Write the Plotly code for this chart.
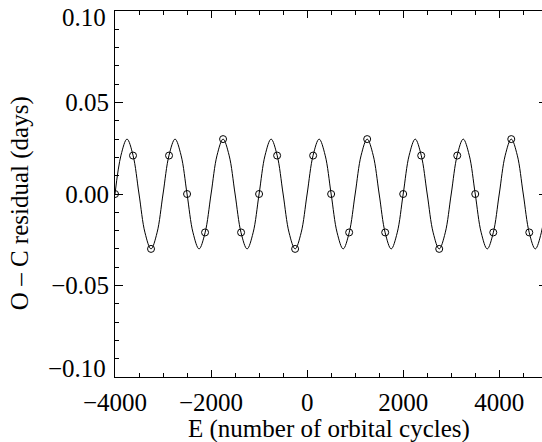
import plotly.graph_objects as go

# Observed O-C residuals (cycle number, days)
obs_E = [-4000, -3625, -3250, -2875, -2500, -2125, -1750, -1375,
         -1000, -625, -250, 125, 500, 875, 1250, 1625,
         2000, 2375, 2750, 3125, 3500, 3875, 4250, 4625]
obs_res = [0.0, 0.021, -0.030, 0.021, 0.0, -0.021, 0.030, -0.021,
           0.0, 0.021, -0.030, 0.021, 0.0, -0.021, 0.030, -0.021,
           0.0, 0.021, -0.030, 0.021, 0.0, -0.021, 0.030, -0.021]

# Fitted curve read at key points (smoothed with a spline)
fit_E = [-4000, -3875, -3750, -3625, -3500, -3375, -3250, -3125,
         -3000, -2875, -2750, -2625, -2500, -2375, -2250, -2125,
         -2000, -1875, -1750, -1625, -1500, -1375, -1250, -1125,
         -1000, -875, -750, -625, -500, -375, -250, -125,
         0, 125, 250, 375, 500, 625, 750, 875,
         1000, 1125, 1250, 1375, 1500, 1625, 1750, 1875,
         2000, 2125, 2250, 2375, 2500, 2625, 2750, 2875,
         3000, 3125, 3250, 3375, 3500, 3625, 3750, 3875,
         4000, 4125, 4250, 4375, 4500, 4625, 4750, 4875, 5000]
fit_res = [0.0, 0.0212, 0.030, 0.0212, 0.0, -0.0212, -0.030, -0.0212,
           0.0, 0.0212, 0.030, 0.0212, 0.0, -0.0212, -0.030, -0.0212,
           0.0, 0.0212, 0.030, 0.0212, 0.0, -0.0212, -0.030, -0.0212,
           0.0, 0.0212, 0.030, 0.0212, 0.0, -0.0212, -0.030, -0.0212,
           0.0, 0.0212, 0.030, 0.0212, 0.0, -0.0212, -0.030, -0.0212,
           0.0, 0.0212, 0.030, 0.0212, 0.0, -0.0212, -0.030, -0.0212,
           0.0, 0.0212, 0.030, 0.0212, 0.0, -0.0212, -0.030, -0.0212,
           0.0, 0.0212, 0.030, 0.0212, 0.0, -0.0212, -0.030, -0.0212,
           0.0, 0.0212, 0.030, 0.0212, 0.0, -0.0212, -0.030, -0.0212, 0.0]

x_ticks = [-4000, -2000, 0, 2000, 4000]
x_tick_text = ["\u22124000", "\u22122000", "0", "2000", "4000"]
y_ticks = [-0.10, -0.05, 0.00, 0.05, 0.10]
# extreme labels are placed separately (kept inside the frame)
y_tick_text = ["", "\u22120.05", "0.00", "0.05", ""]
y_edge_labels = ["\u22120.10", "0.10"]
y_edge_values = [-0.10, 0.10]

X_RANGE = [-4000, 4890]
Y_RANGE = [-0.1, 0.1]
FONT = "Liberation Serif"

fig = go.Figure()
fig.add_trace(go.Scatter(x=fit_E, y=fit_res, mode="lines",
                         line=dict(color="black", width=1, shape="spline", smoothing=1.0),
                         showlegend=False, hoverinfo="skip"))
fig.add_trace(go.Scatter(x=obs_E, y=obs_res, mode="markers",
                         marker=dict(symbol="circle-open", size=7, color="black",
                                     line=dict(color="black", width=1)),
                         showlegend=False))
# invisible trace to activate the top/right frame axes
fig.add_trace(go.Scatter(x=[obs_E[0]], y=[obs_res[0]], xaxis="x2", yaxis="y2", mode="markers",
                         marker=dict(opacity=0), showlegend=False, hoverinfo="skip"))

fig.update_layout(
    width=542, height=442,
    margin=dict(l=115, r=0, t=11, b=65),
    paper_bgcolor="white", plot_bgcolor="white",
    font=dict(family=FONT, size=25, color="black"),
    xaxis=dict(range=X_RANGE, tickmode="array", tickvals=x_ticks, ticktext=x_tick_text,
               ticks="inside", ticklen=7, tickwidth=1, tickcolor="black",
               showline=True, linecolor="black", linewidth=1, mirror=False,
               showgrid=False, zeroline=False, ticklabelstandoff=3,
               minor=dict(dtick=500, tick0=0, ticks="inside", ticklen=4, tickcolor="black", showgrid=False),
               tickfont=dict(family=FONT, size=25)),
    xaxis2=dict(range=X_RANGE, overlaying="x", side="top", anchor="y",
                tickmode="array", tickvals=x_ticks, showticklabels=False,
                ticks="inside", ticklen=7, tickwidth=1, tickcolor="black",
                showline=True, linecolor="black", linewidth=1,
                showgrid=False, zeroline=False,
                minor=dict(dtick=500, tick0=0, ticks="inside", ticklen=4, tickcolor="black", showgrid=False)),
    yaxis=dict(range=Y_RANGE, tickmode="array", tickvals=y_ticks, ticktext=y_tick_text,
               ticks="inside", ticklen=8, tickwidth=1, tickcolor="black",
               showline=True, linecolor="black", linewidth=1, mirror=False,
               showgrid=False, zeroline=False,
               minor=dict(dtick=0.01, tick0=0, ticks="inside", ticklen=4, tickcolor="black", showgrid=False),
               tickfont=dict(family=FONT, size=25)),
    yaxis2=dict(range=Y_RANGE, overlaying="y", side="right", anchor="x",
                tickmode="array", tickvals=y_ticks, showticklabels=False,
                ticks="inside", ticklen=3, tickwidth=1, tickcolor="black",
                showline=False, showgrid=False, zeroline=False),
)

annotations = [
    dict(text="O \u2013 C residual (days)", xref="paper", yref="paper",
         x=-0.2225, y=0.475, xanchor="center", yanchor="middle",
         textangle=-90, showarrow=False, font=dict(family=FONT, size=25)),
    dict(text="E (number of orbital cycles)", xref="paper", yref="paper",
         x=0.5, y=0, xanchor="center", yanchor="top", yshift=-37, borderpad=0,
         showarrow=False, font=dict(family=FONT, size=25)),
]
for lab, val, shift in zip(y_edge_labels, y_edge_values, [9, -6.5]):
    annotations.append(dict(text=lab, xref="paper", yref="y", x=0, y=val,
                            xanchor="right", yanchor="middle", xshift=-7, yshift=shift,
                            showarrow=False, font=dict(family=FONT, size=25)))
fig.update_layout(annotations=annotations)

fig.write_html("out.html")
